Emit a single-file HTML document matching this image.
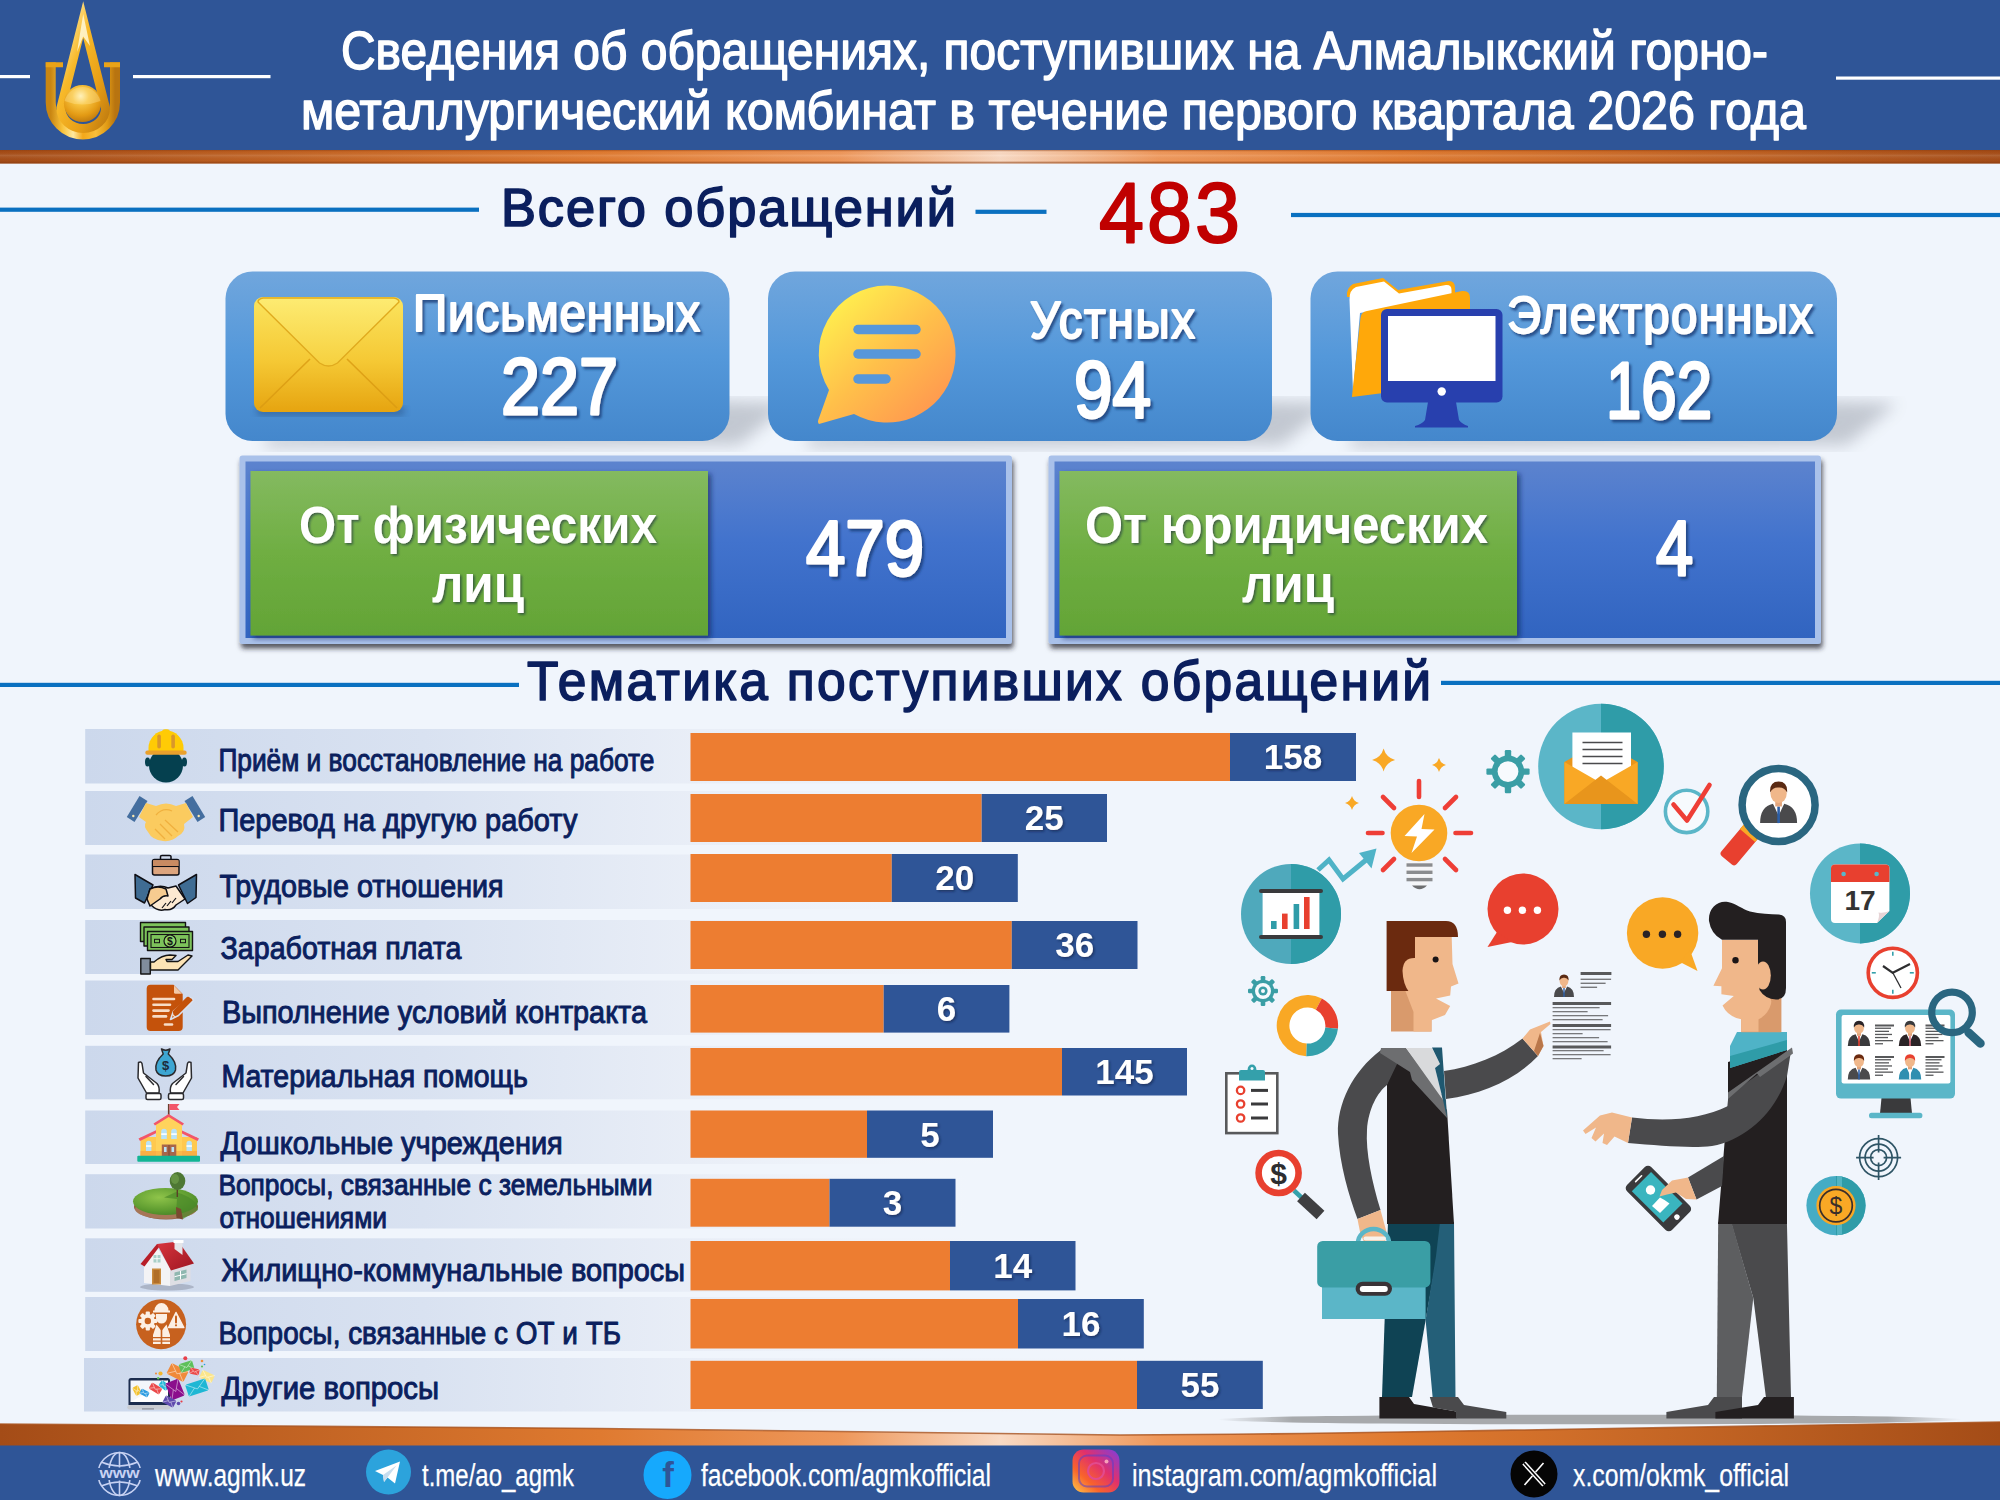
<!DOCTYPE html>
<html lang="ru"><head><meta charset="utf-8"><title>Сведения об обращениях — АГМК</title>
<style>
html,body{margin:0;padding:0;background:#F0F5FC;}
body{width:2000px;height:1500px;overflow:hidden;font-family:"Liberation Sans",sans-serif;}
svg{display:block;}
text{font-family:"Liberation Sans",sans-serif;white-space:pre;}
</style></head><body>
<svg width="2000" height="1500" viewBox="0 0 2000 1500">
<defs>
<linearGradient id="gBand" x1="0" x2="1" y1="0" y2="0">
 <stop offset="0" stop-color="#A44C17"/><stop offset="0.12" stop-color="#BC5F21"/><stop offset="0.3" stop-color="#DF7A30"/><stop offset="0.42" stop-color="#EE975A"/><stop offset="0.5" stop-color="#F9DAC4"/><stop offset="0.58" stop-color="#EE975A"/><stop offset="0.7" stop-color="#DF7A30"/><stop offset="0.88" stop-color="#BC5F21"/><stop offset="1" stop-color="#A44C17"/>
</linearGradient>
<linearGradient id="gBandV" x1="0" x2="0" y1="0" y2="1">
 <stop offset="0" stop-color="#8A3C10" stop-opacity="0.55"/><stop offset="0.14" stop-color="#8A3C10" stop-opacity="0.0"/><stop offset="0.4" stop-color="#fff" stop-opacity="0.12"/><stop offset="0.82" stop-color="#8A3C10" stop-opacity="0.0"/><stop offset="0.9" stop-color="#8A3C10" stop-opacity="0.5"/><stop offset="1" stop-color="#8A3C10" stop-opacity="0.6"/>
</linearGradient>
<linearGradient id="gCard" x1="0" x2="0" y1="0" y2="1">
 <stop offset="0" stop-color="#70A6DD"/><stop offset="0.5" stop-color="#5498DA"/><stop offset="1" stop-color="#4487CC"/>
</linearGradient>
<linearGradient id="gBox" x1="0" x2="0" y1="0" y2="1">
 <stop offset="0" stop-color="#5C83CE"/><stop offset="0.45" stop-color="#4273CD"/><stop offset="1" stop-color="#3164C0"/>
</linearGradient>
<linearGradient id="gGreen" x1="0" x2="0" y1="0" y2="1">
 <stop offset="0" stop-color="#84BA60"/><stop offset="0.5" stop-color="#6FAE42"/><stop offset="1" stop-color="#63A436"/>
</linearGradient>
<linearGradient id="gRow" x1="0" x2="1" y1="0" y2="0">
 <stop offset="0" stop-color="#CCD8EC"/><stop offset="0.55" stop-color="#D9E2F1"/><stop offset="1" stop-color="#E9EEF7"/>
</linearGradient>
<linearGradient id="gRowFade" x1="0" x2="1" y1="0" y2="0">
 <stop offset="0" stop-color="#E9EEF7"/><stop offset="1" stop-color="#F4F7FC" stop-opacity="0"/>
</linearGradient>
<filter id="fTxt" x="-10%" y="-20%" width="130%" height="150%"><feDropShadow dx="2.3" dy="2.8" stdDeviation="0.9" flood-color="#123A76" flood-opacity="0.78"/></filter>
<filter id="fTxtS" x="-10%" y="-20%" width="130%" height="150%"><feDropShadow dx="1.5" dy="1.5" stdDeviation="1" flood-color="#0A1A40" flood-opacity="0.6"/></filter>
<filter id="fBox" x="-5%" y="-10%" width="112%" height="125%"><feDropShadow dx="1.5" dy="4.5" stdDeviation="2.6" flood-color="#20242E" flood-opacity="0.75"/></filter>
<filter id="fGreen" x="-5%" y="-10%" width="112%" height="125%"><feDropShadow dx="3" dy="3" stdDeviation="2.5" flood-color="#0A1A50" flood-opacity="0.6"/></filter>
<filter id="fBlur8"><feGaussianBlur stdDeviation="8"/></filter>
<filter id="fBlur3"><feGaussianBlur stdDeviation="3"/></filter>
</defs>
<rect x="0.0" y="0.0" width="2000.0" height="1500.0" fill="#F0F5FC" />
<rect x="0.0" y="0.0" width="2000.0" height="150.5" fill="#2F5597" />
<rect x="0.0" y="150.0" width="2000.0" height="13.5" fill="url(#gBand)" />
<rect x="0.0" y="150.0" width="2000.0" height="13.5" fill="url(#gBandV)" />
<rect x="0.0" y="75.0" width="30.0" height="3.2" fill="#fff" />
<rect x="133.0" y="75.0" width="137.5" height="3.2" fill="#fff" />
<rect x="1836.0" y="76.5" width="164.0" height="3.2" fill="#fff" />
<text x="341.0" y="69.0" font-size="54" fill="#fff" textLength="1427.0" lengthAdjust="spacingAndGlyphs" stroke="#fff" stroke-width="1.5" stroke-linejoin="round">Сведения об обращениях, поступивших на Алмалыкский горно-</text>
<text x="301.0" y="129.0" font-size="54" fill="#fff" textLength="1505.0" lengthAdjust="spacingAndGlyphs" stroke="#fff" stroke-width="1.5" stroke-linejoin="round">металлургический комбинат в течение первого квартала 2026 года</text>
<rect x="0.0" y="207.6" width="479.0" height="4.2" fill="#0A70C0" />
<rect x="975.5" y="209.7" width="71.0" height="4.2" fill="#0A70C0" />
<rect x="1291.0" y="212.9" width="709.0" height="4.2" fill="#0A70C0" />
<text transform="translate(501.0,225.5) scale(0.97,1)" font-size="54" fill="#0B1F5E" textLength="469.1" lengthAdjust="spacing" stroke="#0B1F5E" stroke-width="1.7" stroke-linejoin="round">Всего обращений</text>
<text transform="translate(1099.0,241.5) scale(0.94,1)" font-size="86" fill="#C00000" textLength="150.0" lengthAdjust="spacing" stroke="#C00000" stroke-width="2.0" stroke-linejoin="round">483</text>
<rect x="0.0" y="682.8" width="519.0" height="4.2" fill="#0A70C0" />
<rect x="1441.0" y="680.8" width="559.0" height="4.2" fill="#0A70C0" />
<text transform="translate(527.0,700.3) scale(0.92,1)" font-size="56" fill="#0B1F5E" textLength="982.6" lengthAdjust="spacing" stroke="#0B1F5E" stroke-width="1.7" stroke-linejoin="round">Тематика поступивших обращений</text>
<path d="M0,1424 L600,1428.5 Q1000,1434.5 1120,1435 Q1250,1434.5 1400,1432 L2000,1422 V1446 H0 Z" fill="url(#gBand)"/>
<path d="M0,1424 L600,1428.5 Q1000,1434.5 1120,1435 Q1250,1434.5 1400,1432 L2000,1422" fill="none" stroke="#A8501A" stroke-width="1.6" opacity="0.8"/>
<rect x="0.0" y="1445.5" width="2000.0" height="54.5" fill="#2F5597" />
<path d="M265.5,435 L719.5,401 L789.5,403 L739.5,445 L265.5,447 Z" fill="#5B6270" opacity="0.30" filter="url(#fBlur8)"/>
<rect x="225.5" y="271.5" width="504.0" height="169.5" fill="url(#gCard)" rx="27" ry="27"/>
<path d="M808,435 L1262,401 L1332,403 L1282,445 L808,447 Z" fill="#5B6270" opacity="0.30" filter="url(#fBlur8)"/>
<rect x="768.0" y="271.5" width="504.0" height="169.5" fill="url(#gCard)" rx="27" ry="27"/>
<path d="M1350.5,435 L1827,401 L1897,403 L1847,445 L1350.5,447 Z" fill="#5B6270" opacity="0.30" filter="url(#fBlur8)"/>
<rect x="1310.5" y="271.5" width="526.5" height="169.5" fill="url(#gCard)" rx="27" ry="27"/>
<text transform="translate(413.0,330.5) scale(0.93,1)" font-size="51" fill="#fff" textLength="308.6" lengthAdjust="spacing" stroke="#fff" stroke-width="2.0" stroke-linejoin="round" filter="url(#fTxt)">Письменных</text>
<text x="501.0" y="414.0" font-size="80" fill="#fff" textLength="117.0" lengthAdjust="spacingAndGlyphs" stroke="#fff" stroke-width="3.0" stroke-linejoin="round" filter="url(#fTxt)">227</text>
<text transform="translate(1030.0,337.5) scale(0.93,1)" font-size="51" fill="#fff" textLength="177.4" lengthAdjust="spacing" stroke="#fff" stroke-width="2.0" stroke-linejoin="round" filter="url(#fTxt)">Устных</text>
<text x="1074.0" y="416.5" font-size="80" fill="#fff" textLength="77.0" lengthAdjust="spacingAndGlyphs" stroke="#fff" stroke-width="3.0" stroke-linejoin="round" filter="url(#fTxt)">94</text>
<text transform="translate(1507.0,332.5) scale(0.93,1)" font-size="51" fill="#fff" textLength="329.0" lengthAdjust="spacing" stroke="#fff" stroke-width="2.0" stroke-linejoin="round" filter="url(#fTxt)">Электронных</text>
<text x="1606.0" y="418.0" font-size="80" fill="#fff" textLength="106.0" lengthAdjust="spacingAndGlyphs" stroke="#fff" stroke-width="3.0" stroke-linejoin="round" filter="url(#fTxt)">162</text>
<g filter="url(#fBox)"><rect x="239.5" y="455.5" width="772.5" height="188.5" fill="#A9C1EA" rx="3"/></g>
<rect x="245.5" y="461.5" width="760.5" height="176.5" fill="url(#gBox)" />
<g filter="url(#fGreen)"><rect x="250.5" y="471.0" width="457.5" height="164.5" fill="url(#gGreen)" /></g>
<g filter="url(#fBox)"><rect x="1048.5" y="455.5" width="772.5" height="188.5" fill="#A9C1EA" rx="3"/></g>
<rect x="1054.5" y="461.5" width="760.5" height="176.5" fill="url(#gBox)" />
<g filter="url(#fGreen)"><rect x="1059.5" y="471.0" width="457.5" height="164.5" fill="url(#gGreen)" /></g>
<text x="299.0" y="542.5" font-size="51" fill="#fff" textLength="358.0" lengthAdjust="spacingAndGlyphs" font-weight="bold" filter="url(#fTxtS)">От физических</text>
<text x="432.0" y="602.0" font-size="51" fill="#fff" textLength="92.0" lengthAdjust="spacingAndGlyphs" font-weight="bold" filter="url(#fTxtS)">лиц</text>
<text x="1085.0" y="542.5" font-size="51" fill="#fff" textLength="403.0" lengthAdjust="spacingAndGlyphs" font-weight="bold" filter="url(#fTxtS)">От юридических</text>
<text x="1242.0" y="602.0" font-size="51" fill="#fff" textLength="92.0" lengthAdjust="spacingAndGlyphs" font-weight="bold" filter="url(#fTxtS)">лиц</text>
<text x="806.0" y="575.0" font-size="77" fill="#fff" textLength="118.0" lengthAdjust="spacingAndGlyphs" stroke="#fff" stroke-width="3.0" stroke-linejoin="round" filter="url(#fTxt)">479</text>
<text x="1656.0" y="575.0" font-size="77" fill="#fff" textLength="37.0" lengthAdjust="spacingAndGlyphs" stroke="#fff" stroke-width="3.0" stroke-linejoin="round" filter="url(#fTxt)">4</text>
<rect x="85.2" y="729.0" width="614.8" height="54.5" fill="url(#gRow)" />
<rect x="700.0" y="729.0" width="676.0" height="54.5" fill="url(#gRowFade)" />
<rect x="690.5" y="733.0" width="539.5" height="48.0" fill="#ED7D31" />
<rect x="1230.0" y="733.0" width="126.0" height="48.0" fill="#2F5597" />
<text x="1293.0" y="769.3" font-size="35" fill="#fff" font-weight="bold" text-anchor="middle" filter="url(#fTxtS)">158</text>
<text x="218.4" y="771.3" font-size="31" fill="#0B1F5E" textLength="436.0" lengthAdjust="spacingAndGlyphs" stroke="#0B1F5E" stroke-width="1.0" stroke-linejoin="round">Приём и восстановление на работе</text>
<rect x="85.2" y="791.0" width="614.8" height="54.0" fill="url(#gRow)" />
<rect x="700.0" y="791.0" width="427.0" height="54.0" fill="url(#gRowFade)" />
<rect x="690.5" y="794.0" width="291.2" height="48.0" fill="#ED7D31" />
<rect x="981.7" y="794.0" width="125.3" height="48.0" fill="#2F5597" />
<text x="1044.3" y="830.3" font-size="35" fill="#fff" font-weight="bold" text-anchor="middle" filter="url(#fTxtS)">25</text>
<text x="218.4" y="830.8" font-size="31" fill="#0B1F5E" textLength="359.0" lengthAdjust="spacingAndGlyphs" stroke="#0B1F5E" stroke-width="1.0" stroke-linejoin="round">Перевод на другую работу</text>
<rect x="85.2" y="854.5" width="614.8" height="54.5" fill="url(#gRow)" />
<rect x="700.0" y="854.5" width="337.8" height="54.5" fill="url(#gRowFade)" />
<rect x="690.5" y="854.0" width="201.3" height="48.0" fill="#ED7D31" />
<rect x="891.8" y="854.0" width="126.0" height="48.0" fill="#2F5597" />
<text x="954.8" y="890.3" font-size="35" fill="#fff" font-weight="bold" text-anchor="middle" filter="url(#fTxtS)">20</text>
<text x="219.4" y="897.3" font-size="31" fill="#0B1F5E" textLength="284.2" lengthAdjust="spacingAndGlyphs" stroke="#0B1F5E" stroke-width="1.0" stroke-linejoin="round">Трудовые отношения</text>
<rect x="85.2" y="920.0" width="614.8" height="54.0" fill="url(#gRow)" />
<rect x="700.0" y="920.0" width="457.5" height="54.0" fill="url(#gRowFade)" />
<rect x="690.5" y="921.0" width="321.3" height="48.0" fill="#ED7D31" />
<rect x="1011.8" y="921.0" width="125.7" height="48.0" fill="#2F5597" />
<text x="1074.7" y="957.3" font-size="35" fill="#fff" font-weight="bold" text-anchor="middle" filter="url(#fTxtS)">36</text>
<text x="220.6" y="959.2" font-size="31" fill="#0B1F5E" textLength="240.8" lengthAdjust="spacingAndGlyphs" stroke="#0B1F5E" stroke-width="1.0" stroke-linejoin="round">Заработная плата</text>
<rect x="85.2" y="980.5" width="614.8" height="54.5" fill="url(#gRow)" />
<rect x="700.0" y="980.5" width="329.4" height="54.5" fill="url(#gRowFade)" />
<rect x="690.5" y="985.0" width="193.2" height="47.6" fill="#ED7D31" />
<rect x="883.7" y="985.0" width="125.7" height="47.6" fill="#2F5597" />
<text x="946.5" y="1021.1" font-size="35" fill="#fff" font-weight="bold" text-anchor="middle" filter="url(#fTxtS)">6</text>
<text x="222.0" y="1023.3" font-size="31" fill="#0B1F5E" textLength="425.0" lengthAdjust="spacingAndGlyphs" stroke="#0B1F5E" stroke-width="1.0" stroke-linejoin="round">Выполнение условий контракта</text>
<rect x="85.2" y="1045.8" width="614.8" height="53.5" fill="url(#gRow)" />
<rect x="700.0" y="1045.8" width="507.0" height="53.5" fill="url(#gRowFade)" />
<rect x="690.5" y="1048.0" width="371.5" height="47.5" fill="#ED7D31" />
<rect x="1062.0" y="1048.0" width="125.0" height="47.5" fill="#2F5597" />
<text x="1124.5" y="1084.0" font-size="35" fill="#fff" font-weight="bold" text-anchor="middle" filter="url(#fTxtS)">145</text>
<text x="221.4" y="1086.7" font-size="31" fill="#0B1F5E" textLength="306.4" lengthAdjust="spacingAndGlyphs" stroke="#0B1F5E" stroke-width="1.0" stroke-linejoin="round">Материальная помощь</text>
<rect x="85.2" y="1110.5" width="614.8" height="53.5" fill="url(#gRow)" />
<rect x="700.0" y="1110.5" width="313.0" height="53.5" fill="url(#gRowFade)" />
<rect x="690.5" y="1110.5" width="176.5" height="47.3" fill="#ED7D31" />
<rect x="867.0" y="1110.5" width="126.0" height="47.3" fill="#2F5597" />
<text x="930.0" y="1146.5" font-size="35" fill="#fff" font-weight="bold" text-anchor="middle" filter="url(#fTxtS)">5</text>
<text x="220.4" y="1154.3" font-size="31" fill="#0B1F5E" textLength="342.4" lengthAdjust="spacingAndGlyphs" stroke="#0B1F5E" stroke-width="1.0" stroke-linejoin="round">Дошкольные учреждения</text>
<rect x="85.2" y="1174.2" width="614.8" height="54.3" fill="url(#gRow)" />
<rect x="700.0" y="1174.2" width="275.5" height="54.3" fill="url(#gRowFade)" />
<rect x="690.5" y="1178.8" width="139.0" height="47.9" fill="#ED7D31" />
<rect x="829.5" y="1178.8" width="126.0" height="47.9" fill="#2F5597" />
<text x="892.5" y="1215.0" font-size="35" fill="#fff" font-weight="bold" text-anchor="middle" filter="url(#fTxtS)">3</text>
<text x="218.4" y="1194.5" font-size="29.5" fill="#0B1F5E" textLength="434.0" lengthAdjust="spacingAndGlyphs" stroke="#0B1F5E" stroke-width="1.0" stroke-linejoin="round">Вопросы, связанные с земельными</text>
<text x="219.4" y="1227.8" font-size="29.5" fill="#0B1F5E" textLength="167.6" lengthAdjust="spacingAndGlyphs" stroke="#0B1F5E" stroke-width="1.0" stroke-linejoin="round">отношениями</text>
<rect x="85.2" y="1238.3" width="614.8" height="53.5" fill="url(#gRow)" />
<rect x="700.0" y="1238.3" width="395.5" height="53.5" fill="url(#gRowFade)" />
<rect x="690.5" y="1241.0" width="259.5" height="49.4" fill="#ED7D31" />
<rect x="950.0" y="1241.0" width="125.5" height="49.4" fill="#2F5597" />
<text x="1012.8" y="1278.0" font-size="35" fill="#fff" font-weight="bold" text-anchor="middle" filter="url(#fTxtS)">14</text>
<text x="221.6" y="1281.3" font-size="31" fill="#0B1F5E" textLength="463.4" lengthAdjust="spacingAndGlyphs" stroke="#0B1F5E" stroke-width="1.0" stroke-linejoin="round">Жилищно-коммунальные вопросы</text>
<rect x="85.2" y="1297.0" width="614.8" height="54.0" fill="url(#gRow)" />
<rect x="700.0" y="1297.0" width="463.8" height="54.0" fill="url(#gRowFade)" />
<rect x="690.5" y="1299.0" width="327.5" height="49.5" fill="#ED7D31" />
<rect x="1018.0" y="1299.0" width="125.8" height="49.5" fill="#2F5597" />
<text x="1080.9" y="1336.0" font-size="35" fill="#fff" font-weight="bold" text-anchor="middle" filter="url(#fTxtS)">16</text>
<text x="218.4" y="1344.3" font-size="31" fill="#0B1F5E" textLength="402.6" lengthAdjust="spacingAndGlyphs" stroke="#0B1F5E" stroke-width="1.0" stroke-linejoin="round">Вопросы, связанные с ОТ и ТБ</text>
<rect x="84.0" y="1358.0" width="616.0" height="53.5" fill="url(#gRow)" />
<rect x="700.0" y="1358.0" width="582.8" height="53.5" fill="url(#gRowFade)" />
<rect x="690.5" y="1360.8" width="446.5" height="48.2" fill="#ED7D31" />
<rect x="1137.0" y="1360.8" width="125.8" height="48.2" fill="#2F5597" />
<text x="1199.9" y="1397.2" font-size="35" fill="#fff" font-weight="bold" text-anchor="middle" filter="url(#fTxtS)">55</text>
<text x="221.6" y="1399.3" font-size="31" fill="#0B1F5E" textLength="217.4" lengthAdjust="spacingAndGlyphs" stroke="#0B1F5E" stroke-width="1.0" stroke-linejoin="round">Другие вопросы</text>
<defs>
<linearGradient id="gGold" x1="0" x2="1" y1="0" y2="0"><stop offset="0" stop-color="#C98612"/><stop offset="0.18" stop-color="#F9C238"/><stop offset="0.35" stop-color="#FFE9A0"/><stop offset="0.5" stop-color="#F3A81A"/><stop offset="0.7" stop-color="#F8BE3A"/><stop offset="0.88" stop-color="#E09A14"/><stop offset="1" stop-color="#B87410"/></linearGradient>
<linearGradient id="gGoldA" x1="0" x2="1" y1="0" y2="1"><stop offset="0" stop-color="#FFF1B8"/><stop offset="0.35" stop-color="#F7B92A"/><stop offset="0.7" stop-color="#E9A016"/><stop offset="1" stop-color="#C07C10"/></linearGradient>
<radialGradient id="gBall" cx="0.45" cy="0.3" r="0.75"><stop offset="0" stop-color="#FFF6C8"/><stop offset="0.3" stop-color="#F8C440"/><stop offset="0.7" stop-color="#E39A14"/><stop offset="1" stop-color="#B8740E"/></radialGradient>
</defs>
<path d="M50.7,62.3 V102.3 A32.15,32.15 0 0 0 115,102.3 V62.3" fill="none" stroke="url(#gGold)" stroke-width="10"/>
<path d="M45.7,62.3 H63 V67.3 H45.7 Z M104,62.3 H120 V67.3 H104 Z" fill="#E9A318"/>
<path d="M83.2,19.7 L60.9,108 A22.3,20.5 0 0 0 105.5,108 Z" fill="none" stroke="url(#gGoldA)" stroke-width="9" stroke-linejoin="miter" stroke-miterlimit="12"/>
<path d="M83.2,14 L90,46 L83.2,36.5 L77,52 Z" fill="#FFF8D8" opacity="0.85"/>
<circle cx="82.5" cy="103.5" r="18.6" fill="url(#gBall)"/>
<path d="M64.5,101 A18.6,18.6 0 0 1 100.5,101 Q82,108 64.5,101 Z" fill="#FFE9A0" opacity="0.35"/>
<defs>
<linearGradient id="gEnv" x1="0" x2="0" y1="0" y2="1"><stop offset="0" stop-color="#FBE45E"/><stop offset="0.55" stop-color="#F5C935"/><stop offset="1" stop-color="#E6A410"/></linearGradient>
<linearGradient id="gEnvF" x1="0" x2="0" y1="0" y2="1"><stop offset="0" stop-color="#FDEB72"/><stop offset="1" stop-color="#F6D03E"/></linearGradient>
</defs>
<rect x="256" y="406" width="149" height="10" rx="5" fill="#1B3A66" opacity="0.35" filter="url(#fBlur3)"/>
<rect x="254.0" y="297.0" width="149.0" height="115.0" fill="url(#gEnv)" rx="9"/>
<path d="M260,408 L310,359 M397,408 L347,359" stroke="#D99A12" stroke-width="1.6" fill="none" opacity="0.8"/>
<path d="M258,302 Q258,299 263,298 L394,298 Q399,299 399,302 L337.5,363 Q328.5,369 319.5,363 Z" fill="url(#gEnvF)" stroke="#E0AA1E" stroke-width="1.4"/>
<defs><linearGradient id="gChat" x1="0.1" y1="0.05" x2="0.9" y2="0.95"><stop offset="0" stop-color="#FFF44F"/><stop offset="0.5" stop-color="#FFC04A"/><stop offset="1" stop-color="#FF9350"/></linearGradient></defs>
<path d="M887,285.5 A68.5,68.5 0 1 1 854,414 L819,424 Q817,422 819,418 L829,390 A68.5,68.5 0 0 1 887,285.5 Z" fill="url(#gChat)"/>
<path d="M858,329.5 H916" stroke="#5797DA" stroke-width="9.5" stroke-linecap="round"/>
<path d="M858,354 H916" stroke="#5797DA" stroke-width="9.5" stroke-linecap="round"/>
<path d="M858,379 H886" stroke="#5797DA" stroke-width="9.5" stroke-linecap="round"/>
<path d="M1347,297 Q1346,288 1353,284 L1383,278 L1398,290 L1449,281 Q1455,281 1455,288 L1455,300 Z" fill="#FFA80A"/>
<path d="M1349.5,300 Q1349,290 1356,287 L1384,281.5 L1399,293.5 L1446,285 Q1451.5,284.5 1451.5,290 L1451.5,296 L1360,313 L1353,392 Z" fill="#fff"/>
<path d="M1352,396 L1360.5,318 Q1361,312 1367,311 L1462,291 Q1470,290 1470,298 L1470,382 L1352,397 Z" fill="#FFA80A"/>
<rect x="1381.0" y="309.0" width="121.5" height="93.5" fill="#2840AE" rx="6"/>
<rect x="1388.0" y="316.0" width="107.5" height="65.0" fill="#fff" />
<circle cx="1441.7" cy="391.5" r="4.2" fill="#fff"/>
<path d="M1428,402 H1456 L1459,420 Q1462,424 1468,426 V427.5 H1415 V426 Q1422,424 1425,420 Z" fill="#2840AE"/>
<circle cx="166" cy="765.5" r="17" fill="#05404F"/>
<ellipse cx="147.6" cy="762" rx="2.6" ry="4.5" fill="#05404F"/><ellipse cx="184.4" cy="762" rx="2.6" ry="4.5" fill="#05404F"/>
<path d="M148.5,752 V748 A17.5,17.5 0 0 1 183.5,748 V752 Z" fill="#FFCB05"/>
<rect x="162.0" y="729.3" width="8.0" height="10.0" fill="#FFCB05" rx="3"/>
<rect x="157.3" y="734.5" width="3.6" height="14.0" fill="#D9972B" rx="1.8"/>
<rect x="171.3" y="734.5" width="3.6" height="14.0" fill="#D9972B" rx="1.8"/>
<rect x="145.3" y="750.6" width="41.4" height="4.2" fill="#E9A02C" rx="2.1"/>
<path d="M139.5,796 L147.5,801 L134.5,822 L126.8,817 Z" fill="#446E9F"/><path d="M192.5,796 L184.5,801 L197.5,822 L205.2,817 Z" fill="#446E9F"/>
<circle cx="133.3" cy="816" r="1.2" fill="#FDE9B0"/><circle cx="198.7" cy="816" r="1.2" fill="#FDE9B0"/>
<path d="M146,803 L156,806 Q166,801 176,806 L186,803 L193,817 L184,824 Q186,832 178,836 Q172,842 163,841 Q152,840 148,832 Q143,826 146,822 L139,817 Z" fill="#FBCB5F"/>
<path d="M156,815 Q163,807 172,811 M165,820 L178,832 M160,824 L172,836 M155,829 L165,839" stroke="#F0B03E" stroke-width="1.3" fill="none"/>
<rect x="152.5" y="859.5" width="26.5" height="15.5" rx="2" fill="#DDA57E" stroke="#0E0E14" stroke-width="1.5" stroke-linejoin="round"/>
<path d="M160.5,859 V856.5 Q160.5,855.5 162,855.5 H169.5 Q171,855.5 171,856.5 V859" fill="none" stroke="#0E0E14" stroke-width="1.5" stroke-linejoin="round"/>
<path d="M153,866.5 H179" stroke="#0E0E14" stroke-width="1.1"/><path d="M153,860.2 H178.6 V866 H153 Z" fill="#C98B62"/>
<path d="M135,874.5 L153,885 L144.5,903 L135.5,898 Z" fill="#3F6C93" stroke="#0E0E14" stroke-width="1.5" stroke-linejoin="round"/><path d="M196.5,874.5 L178.5,885 L187.5,903.5 L196,897.5 Z" fill="#3F6C93" stroke="#0E0E14" stroke-width="1.5" stroke-linejoin="round"/>
<path d="M150,889 Q160,884 168,888 L176,886 L185,899 L176,905 Q172,911 165,909.5 Q158,912 151,905 L147,899 Z" fill="#FCE9D2" stroke="#0E0E14" stroke-width="1.5" stroke-linejoin="round"/>
<path d="M150,889 Q158,885 166,889 L168,896 Q163,895 160,899 L150,906 L147,899 Z" fill="#F6CB90" stroke="#0E0E14" stroke-width="1.5" stroke-linejoin="round"/>
<path d="M172,903 L176,898 M167,906 L171,901 M162,908 L166,903" stroke="#0E0E14" stroke-width="1.2"/>
<rect x="140.5" y="922.5" width="45" height="19" fill="#7DC35B" stroke="#141414" stroke-width="1.4" stroke-linejoin="round"/>
<rect x="144" y="927" width="45" height="19" fill="#7DC35B" stroke="#141414" stroke-width="1.4" stroke-linejoin="round"/>
<rect x="147.5" y="931.5" width="45" height="19" fill="#7DC35B" stroke="#141414" stroke-width="1.4" stroke-linejoin="round"/>
<rect x="151" y="934.5" width="38" height="13" fill="none" stroke="#141414" stroke-width="1.1"/>
<circle cx="170" cy="941" r="6" fill="#8FD46A" stroke="#141414" stroke-width="1.2"/>
<text x="170.0" y="944.8" font-size="10.5" fill="#141414" font-weight="bold" text-anchor="middle">$</text>
<rect x="154.5" y="939.3" width="5" height="3.4" fill="none" stroke="#141414" stroke-width="1"/><rect x="180.5" y="939.3" width="5" height="3.4" fill="none" stroke="#141414" stroke-width="1"/>
<rect x="140.8" y="958.5" width="9.5" height="15.5" fill="#808C9C" stroke="#141414" stroke-width="1.4" stroke-linejoin="round"/>
<path d="M150.5,962 H154 Q162,955 170,955 L176,955.5 L172,959.5 H166 L167,961.5 H178 L188,955 L192,956 L178,970 H150.5 Z" fill="#FCE3B5" stroke="#141414" stroke-width="1.4" stroke-linejoin="round"/>
<path d="M150.5,984.7 H173.5 L182.7,994 V1027 Q182.7,1031 178.7,1031 H150.5 Q146.7,1031 146.7,1027 V988.7 Q146.7,984.7 150.5,984.7 Z" fill="#C4520B"/>
<path d="M174,985.5 L182,993.7 H175.5 Q174,993.7 174,992.2 Z" fill="#F2C9A8"/>
<path d="M153.5,999 H174" stroke="#F7DCC6" stroke-width="2.6" stroke-linecap="round"/>
<path d="M153.5,1004.8 H170" stroke="#F7DCC6" stroke-width="2.6" stroke-linecap="round"/>
<path d="M153.5,1010.6 H168.5" stroke="#F7DCC6" stroke-width="2.6" stroke-linecap="round"/>
<path d="M153.5,1016.4 H166" stroke="#F7DCC6" stroke-width="2.6" stroke-linecap="round"/>
<path d="M165,1024.5 H172" stroke="#F7DCC6" stroke-width="2.6" stroke-linecap="round"/>
<path d="M189.5,997.5 Q192.5,997 193.5,1000.5 L178.5,1015.5 L170.5,1019.5 L173.5,1011 Z" fill="#C4520B" stroke="#D9E1F0" stroke-width="1.6" stroke-linejoin="round"/><path d="M188,1000 L176,1012" stroke="#C4520B" stroke-width="6" stroke-linecap="round"/>
<path d="M172.5,1014.5 L175.5,1017.5" stroke="#F7DCC6" stroke-width="1.2"/>
<path d="M161.5,1049 Q165.7,1051.5 170,1049 L168.3,1054 Q177,1062 175.5,1070 Q174,1076 165.7,1076 Q157.5,1076 156,1070 Q154.5,1062 163.2,1054 Z" fill="#3DA6D2" stroke="#2A2A2E" stroke-width="1.5" stroke-linejoin="round" stroke-linecap="round"/>
<text x="165.7" y="1070.0" font-size="13" fill="#1E2A3A" font-weight="bold" text-anchor="middle">$</text>
<path d="M138.5,1062.5 Q141,1061 142,1063.5 L143.5,1073 L157,1083.5 Q160,1087 159,1093 H146.5 L138,1078 Z" fill="#fff" stroke="#2A2A2E" stroke-width="1.5" stroke-linejoin="round" stroke-linecap="round"/><path d="M146,1076.5 L153.5,1084.5" fill="none" stroke="#2A2A2E" stroke-width="1.5" stroke-linejoin="round" stroke-linecap="round"/>
<path d="M191,1062.5 Q188.5,1061 187.500,1063.5 L186,1073 L172.500,1083.5 Q169.500,1087 170.500,1093 H183 L191.500,1078 Z" fill="#fff" stroke="#2A2A2E" stroke-width="1.5" stroke-linejoin="round" stroke-linecap="round"/><path d="M183.500,1076.5 L176,1084.5" fill="none" stroke="#2A2A2E" stroke-width="1.5" stroke-linejoin="round" stroke-linecap="round"/>
<rect x="146" y="1093.5" width="15" height="6" rx="1.5" fill="#fff" stroke="#2A2A2E" stroke-width="1.5" stroke-linejoin="round" stroke-linecap="round"/><rect x="168.5" y="1093.5" width="15" height="6" rx="1.5" fill="#fff" stroke="#2A2A2E" stroke-width="1.5" stroke-linejoin="round" stroke-linecap="round"/>
<path d="M168.7,1104 V1115" stroke="#6B3E2E" stroke-width="1.6"/><path d="M169.5,1104 H179.5 L177,1107 L179.5,1110 H169.5 Z" fill="#F2566A"/>
<rect x="140.5" y="1137.0" width="56.5" height="19.0" fill="#FFC94F" />
<rect x="140.5" y="1151.0" width="56.5" height="5.0" fill="#FBAF45" />
<path d="M138.5,1138.5 L156.5,1130 L156.5,1133 L140,1141 Z" fill="#F2566A"/><path d="M199,1138.500 L181,1130 L181,1133 L197.500,1141 Z" fill="#F2566A"/>
<path d="M156,1123 L168.7,1115.5 L182,1123 V1156 H156 Z" fill="#FFD35C"/>
<rect x="156.0" y="1151.0" width="26.0" height="5.0" fill="#FCB84A" />
<path d="M153.5,1123.5 L168.7,1114 L184,1123.5 L182.500,1125.500 L168.7,1117 L155,1125.500 Z" fill="#F2566A"/>
<path d="M161.2,1139 V1131.5 A2.8,2.8 0 0 1 166.79999999999998,1131.5 V1139 Z" fill="#B9E3F8"/><rect x="161.2" y="1133.3" width="5.6" height="1.6" fill="#fff"/>
<path d="M171.2,1139 V1131.5 A2.8,2.8 0 0 1 176.79999999999998,1131.5 V1139 Z" fill="#B9E3F8"/><rect x="171.2" y="1133.3" width="5.6" height="1.6" fill="#fff"/>
<path d="M146,1151 V1143.500 A2.7,2.7 0 0 1 151.4,1143.500 V1151 Z" fill="#B9E3F8"/><rect x="146" y="1145.300" width="5.400" height="1.500" fill="#fff"/>
<path d="M186.5,1151 V1143.500 A2.7,2.7 0 0 1 191.9,1143.500 V1151 Z" fill="#B9E3F8"/><rect x="186.5" y="1145.300" width="5.400" height="1.500" fill="#fff"/>
<rect x="161.8" y="1144.5" width="14.5" height="11.5" fill="#A8664A" />
<path d="M169,1145 V1156" stroke="#7C4632" stroke-width="1"/>
<rect x="164.0" y="1147.0" width="2.6" height="5.0" fill="#B9E3F8" />
<rect x="171.5" y="1147.0" width="2.6" height="5.0" fill="#B9E3F8" />
<rect x="137.3" y="1155.7" width="62.7" height="6.0" fill="#12B594" rx="1"/>
<defs><radialGradient id="gGrass" cx="0.4" cy="0.35" r="0.8"><stop offset="0" stop-color="#8FC44A"/><stop offset="0.6" stop-color="#5E9C30"/><stop offset="1" stop-color="#3F7A24"/></radialGradient></defs>
<ellipse cx="166" cy="1207" rx="32" ry="12.5" fill="#8A5A3A"/>
<ellipse cx="166" cy="1209" rx="31" ry="10" fill="#B9896A" opacity="0.6"/>
<ellipse cx="165.5" cy="1201.500" rx="32.500" ry="13.500" fill="url(#gGrass)"/>
<path d="M164,1197.500 L177,1199 L176,1216 L183,1219 L198,1210 L197,1204 Q190,1196 176,1192 Z" fill="#4C8A2A" opacity="0.7"/>
<path d="M176,1207 L176.500,1218 L183,1219.500 L181,1209 Z" fill="#7A4A30"/>
<path d="M177.300,1197 V1187" stroke="#5A4028" stroke-width="1.4"/>
<ellipse cx="177.500" cy="1181" rx="7.800" ry="9" fill="#4E7834"/><ellipse cx="175" cy="1179" rx="4" ry="5" fill="#6B9A48" opacity="0.8"/>
<defs><linearGradient id="gRoof" x1="0" x2="1" y1="0" y2="1"><stop offset="0" stop-color="#D8353E"/><stop offset="1" stop-color="#9E1620"/></linearGradient></defs>
<ellipse cx="167" cy="1287" rx="27" ry="3.500" fill="#6A7080" opacity="0.35"/>
<path d="M144,1264 L157,1247 L170,1268 V1286 L144,1283 Z" fill="#F3F3F5"/>
<path d="M170,1268 L190.500,1262 V1281 L170,1286 Z" fill="#DEDEE4"/>
<path d="M140.500,1264 L157,1244 L161,1244.500 L144.500,1266.500 Z" fill="#B81E28"/>
<path d="M157,1244 L178.500,1241.500 L194,1263.500 L171,1270.500 Z" fill="url(#gRoof)"/>
<path d="M174.500,1242 H182.500 V1255 L174.500,1249 Z" fill="#E4E4E8"/><path d="M173.500,1240 H183.500 V1243 H173.500 Z" fill="#fff"/>
<rect x="152.0" y="1268.5" width="9.0" height="16.0" fill="#C98A3C" />
<rect x="153.5" y="1270.0" width="6.0" height="13.0" fill="#B06E28" />
<path d="M174.500,1272.500 L186.500,1269.500 V1278 L174.500,1281 Z" fill="#8FB8B0"/><path d="M180.500,1271 V1279.500 M174.500,1276.700 L186.500,1273.700" stroke="#fff" stroke-width="1"/>
<rect x="153.5" y="1255.0" width="7.0" height="7.5" fill="#A8CFC8" />
<path d="M157,1255 V1262.500 M153.500,1258.700 H160.500" stroke="#fff" stroke-width="0.9"/>
<circle cx="161.1" cy="1324.2" r="25" fill="#C7611E"/>
<rect x="145.70000000000002" y="1311.6" width="4.200" height="18.800" rx="1" fill="#FCEFE4" transform="rotate(0 147.8 1321)"/><rect x="145.70000000000002" y="1311.6" width="4.200" height="18.800" rx="1" fill="#FCEFE4" transform="rotate(45 147.8 1321)"/><rect x="145.70000000000002" y="1311.6" width="4.200" height="18.800" rx="1" fill="#FCEFE4" transform="rotate(90 147.8 1321)"/><rect x="145.70000000000002" y="1311.6" width="4.200" height="18.800" rx="1" fill="#FCEFE4" transform="rotate(135 147.8 1321)"/><circle cx="147.8" cy="1321" r="7" fill="#FCEFE4"/><circle cx="147.8" cy="1321" r="3.200" fill="#C7611E"/>
<path d="M154.500,1310.500 A7,7.500 0 0 1 168.500,1310.500 H170 V1312.500 H153 V1310.500 Z" fill="#FCEFE4"/>
<path d="M156,1314 H167 V1318 A5.500,5.500 0 0 1 156,1318 Z" fill="#FCEFE4"/>
<path d="M156.500,1324.500 L161.500,1331 L166.500,1324.500 L170,1335 V1344 H153 V1335 Z" fill="#FCEFE4"/>
<path d="M161.500,1329 V1345" stroke="#C7611E" stroke-width="1.600"/><path d="M152,1337.700 H171 M152,1341.200 H171" stroke="#C7611E" stroke-width="1.300"/>
<path d="M176,1312.500 L183.800,1327.500 H168.600 Z" fill="#FCEFE4" stroke="#FCEFE4" stroke-width="1.500" stroke-linejoin="round"/>
<path d="M176,1316.500 V1322.500" stroke="#C7611E" stroke-width="2" stroke-linecap="round"/><circle cx="176" cy="1325.300" r="1.100" fill="#C7611E"/>
<path d="M128.500,1380.500 Q128.500,1378 131,1378 H167.500 Q170,1378 170,1380.500 V1405 H128.500 Z" fill="#1C2D4E"/>
<rect x="130.5" y="1380.5" width="37.5" height="21.5" fill="#F4F6FA" />
<path d="M130.500,1402 L168,1380.500 V1402 Z" fill="#fff"/>
<rect x="127.3" y="1405.0" width="43.0" height="4.5" fill="#C9CCD2" rx="2.2"/>
<rect x="142.0" y="1408.3" width="12.0" height="1.2" fill="#8A8E98" />
<g transform="translate(137 1390.5) rotate(-28)"><rect x="-3.25" y="-4.5" width="6.5" height="9" rx="1.200" fill="#F3C12E"/><path d="M-3.25,-4.5 L0,1.08 L3.25,-4.5 M-3.25,4.5 L-0.78,-0.18 M3.25,4.5 L0.78,-0.18" stroke="#fff" stroke-opacity="0.6" stroke-width="0.700" fill="none"/></g>
<g transform="translate(144.5 1393) rotate(28)"><rect x="-4.5" y="-2.75" width="9" height="5.5" rx="1.200" fill="#2A9BE0"/><path d="M-4.5,-2.75 L0,0.6599999999999999 L4.5,-2.75 M-4.5,2.75 L-1.08,-0.11 M4.5,2.75 L1.08,-0.11" stroke="#fff" stroke-opacity="0.6" stroke-width="0.700" fill="none"/></g>
<g transform="translate(155.5 1388.5) rotate(32)"><rect x="-6.0" y="-3.5" width="12" height="7" rx="1.200" fill="#EB4A4A"/><path d="M-6.0,-3.5 L0,0.84 L6.0,-3.5 M-6.0,3.5 L-1.44,-0.14 M6.0,3.5 L1.44,-0.14" stroke="#fff" stroke-opacity="0.6" stroke-width="0.700" fill="none"/></g>
<g transform="translate(164 1385.5) rotate(38)"><rect x="-4.75" y="-3.25" width="9.5" height="6.5" rx="1.200" fill="#22B8D8"/><path d="M-4.75,-3.25 L0,0.78 L4.75,-3.25 M-4.75,3.25 L-1.14,-0.13 M4.75,3.25 L1.14,-0.13" stroke="#fff" stroke-opacity="0.6" stroke-width="0.700" fill="none"/></g>
<g transform="translate(175 1389.5) rotate(-22)"><rect x="-7.0" y="-9.0" width="14" height="18" rx="1.200" fill="#8B0E8C"/><path d="M-7.0,-9.0 L0,2.16 L7.0,-9.0 M-7.0,9.0 L-1.68,-0.36 M7.0,9.0 L1.68,-0.36" stroke="#fff" stroke-opacity="0.6" stroke-width="0.700" fill="none"/></g>
<g transform="translate(177.5 1372.5) rotate(27)"><rect x="-9.5" y="-6.0" width="19" height="12" rx="1.200" fill="#F08A3A"/><path d="M-9.5,-6.0 L0,1.44 L9.5,-6.0 M-9.5,6.0 L-2.28,-0.24 M9.5,6.0 L2.28,-0.24" stroke="#fff" stroke-opacity="0.6" stroke-width="0.700" fill="none"/></g>
<g transform="translate(186.5 1366.5) rotate(-17)"><rect x="-7.0" y="-4.5" width="14" height="9" rx="1.200" fill="#5DC05A"/><path d="M-7.0,-4.5 L0,1.08 L7.0,-4.5 M-7.0,4.5 L-1.68,-0.18 M7.0,4.5 L1.68,-0.18" stroke="#fff" stroke-opacity="0.6" stroke-width="0.700" fill="none"/></g>
<g transform="translate(194.5 1371.5) rotate(12)"><rect x="-4.75" y="-3.0" width="9.5" height="6" rx="1.200" fill="#EB4A4A"/><path d="M-4.75,-3.0 L0,0.72 L4.75,-3.0 M-4.75,3.0 L-1.14,-0.12 M4.75,3.0 L1.14,-0.12" stroke="#fff" stroke-opacity="0.6" stroke-width="0.700" fill="none"/></g>
<g transform="translate(207 1376.5) rotate(25)"><rect x="-6.75" y="-4.25" width="13.5" height="8.5" rx="1.200" fill="#FBE58A"/><path d="M-6.75,-4.25 L0,1.02 L6.75,-4.25 M-6.75,4.25 L-1.6199999999999999,-0.17 M6.75,4.25 L1.6199999999999999,-0.17" stroke="#fff" stroke-opacity="0.6" stroke-width="0.700" fill="none"/></g>
<g transform="translate(197 1387.5) rotate(-18)"><rect x="-10.5" y="-6.25" width="21" height="12.5" rx="1.200" fill="#1FB7D4"/><path d="M-10.5,-6.25 L0,1.5 L10.5,-6.25 M-10.5,6.25 L-2.52,-0.25 M10.5,6.25 L2.52,-0.25" stroke="#fff" stroke-opacity="0.6" stroke-width="0.700" fill="none"/></g>
<g transform="translate(169.5 1401.5) rotate(28)"><rect x="-6.0" y="-4.0" width="12" height="8" rx="1.200" fill="#5E4BAE"/><path d="M-6.0,-4.0 L0,0.96 L6.0,-4.0 M-6.0,4.0 L-1.44,-0.16 M6.0,4.0 L1.44,-0.16" stroke="#fff" stroke-opacity="0.6" stroke-width="0.700" fill="none"/></g>
<circle cx="185.3" cy="1358.3" r="2" fill="#E8404A"/>
<circle cx="202" cy="1361" r="1.3" fill="#F08A3A"/>
<circle cx="202" cy="1366.5" r="1.1" fill="#5DC05A"/>
<circle cx="160.5" cy="1373.5" r="2.1" fill="#F3B72E"/>
<circle cx="158.2" cy="1378.2" r="1.2" fill="#5DC05A"/>
<circle cx="156" cy="1373.5" r="1" fill="#F08A3A"/>
<circle cx="178.5" cy="1403.5" r="1.8" fill="#5E4BAE"/>
<circle cx="181.5" cy="1401.5" r="1.1" fill="#E8404A"/>
<circle cx="204.5" cy="1364.5" r="0.8" fill="#2A9BE0"/>
<path d="M1383.6,748.5 Q1386.1299999999999,757.47 1395.1,760 Q1386.1299999999999,762.53 1383.6,771.5 Q1381.07,762.53 1372.1,760 Q1381.07,757.47 1383.6,748.5 Z" fill="#F9A825"/>
<path d="M1439,758 Q1440.54,763.46 1446,765 Q1440.54,766.54 1439,772 Q1437.46,766.54 1432,765 Q1437.46,763.46 1439,758 Z" fill="#F9A825"/>
<path d="M1352,796 Q1353.54,801.46 1359,803 Q1353.54,804.54 1352,810 Q1350.46,804.54 1345,803 Q1350.46,801.46 1352,796 Z" fill="#F9A825"/>
<rect x="1504.80" y="750.00" width="6.4" height="43.2" rx="1.2" fill="#3A9EA5" transform="rotate(0.0 1508 771.6)"/><rect x="1504.80" y="750.00" width="6.4" height="43.2" rx="1.2" fill="#3A9EA5" transform="rotate(45.0 1508 771.6)"/><rect x="1504.80" y="750.00" width="6.4" height="43.2" rx="1.2" fill="#3A9EA5" transform="rotate(90.0 1508 771.6)"/><rect x="1504.80" y="750.00" width="6.4" height="43.2" rx="1.2" fill="#3A9EA5" transform="rotate(135.0 1508 771.6)"/><circle cx="1508" cy="771.6" r="16.2" fill="#3A9EA5"/><circle cx="1508" cy="771.6" r="10.4" fill="#F7FAFD"/>
<circle cx="1601" cy="766.5" r="62.8" fill="#5BB6C8"/><path d="M1601,703.7 A62.8,62.8 0 0 1 1601,829.3 Z" fill="#2F9CA8"/><path d="M1564.4,762 L1601,741 L1637.6,762 V804 H1564.4 Z" fill="#E8951C"/><path d="M1572.4,732.4 H1631 V790 H1572.4 Z" fill="#fff"/><path d="M1582.5,742.5 H1622.5" stroke="#4A4A4C" stroke-width="1.7"/><path d="M1582.5,749.5 H1622.5" stroke="#4A4A4C" stroke-width="1.7"/><path d="M1582.5,756.5 H1622.5" stroke="#4A4A4C" stroke-width="1.7"/><path d="M1582.5,763.5 H1622.5" stroke="#4A4A4C" stroke-width="1.7"/><path d="M1564.4,762 L1601,783 L1637.6,762 V804 H1564.4 Z" fill="#F9A825"/><path d="M1564.4,804 L1601,775.500 L1637.6,804 Z" fill="#E8951C"/>
<path d="M1419,781 L1419,797" stroke="#EE3E36" stroke-width="4.6" stroke-linecap="round"/><path d="M1368,833 L1382.5,833" stroke="#EE3E36" stroke-width="4.6" stroke-linecap="round"/><path d="M1455.5,833 L1471,833" stroke="#EE3E36" stroke-width="4.6" stroke-linecap="round"/><path d="M1383,797 L1394,808" stroke="#EE3E36" stroke-width="4.6" stroke-linecap="round"/><path d="M1456,797 L1445,808" stroke="#EE3E36" stroke-width="4.6" stroke-linecap="round"/><path d="M1383,870 L1394,859" stroke="#EE3E36" stroke-width="4.6" stroke-linecap="round"/><path d="M1456,870 L1445,859" stroke="#EE3E36" stroke-width="4.6" stroke-linecap="round"/><path d="M1406,861 H1432.500 V872 L1428,884 Q1419.500,892 1411,884 L1406,872 Z" fill="#F5F6F8"/><path d="M1406.500,865 H1432.500" stroke="#8A8C8F" stroke-width="3.400"/><path d="M1406.500,872.3 H1432.500" stroke="#8A8C8F" stroke-width="3.400"/><path d="M1406.500,879.6 H1432.500" stroke="#8A8C8F" stroke-width="3.400"/><path d="M1412,885.500 Q1419.500,893 1427,885.500 Z" fill="#6D6E70"/><circle cx="1419" cy="833" r="28.3" fill="#F9A825"/><path d="M1424.500,814 L1404.500,836 L1417,836.500 L1411.500,853 L1434.500,829.500 L1421.500,829 Z" fill="#fff"/>
<circle cx="1291" cy="914" r="50" fill="#4FA9BC"/><path d="M1291,864 A50,50 0 0 1 1291,964 Z" fill="#2F9CA8"/><rect x="1262.6" y="892.0" width="56.8" height="43.0" fill="#fff" /><path d="M1261,891 H1321 M1261,937 H1321" stroke="#3A3A3C" stroke-width="4" stroke-linecap="round"/><rect x="1271.0" y="921.0" width="5.6" height="8.0" fill="#2F9CA8" /><rect x="1282.0" y="913.6" width="5.6" height="15.4" fill="#E8402F" /><rect x="1293.6" y="904.0" width="5.6" height="25.0" fill="#2F9CA8" /><rect x="1304.0" y="897.0" width="5.6" height="32.0" fill="#E8402F" /><path d="M1318,870 L1329,860 L1343,879 L1366,860" fill="none" stroke="#4FB3C7" stroke-width="5"/><path d="M1376.500,848.500 L1359,853 L1371.500,868.500 Z" fill="#4FB3C7"/>
<circle cx="1523" cy="909" r="35.5" fill="#E8402F"/><path d="M1497,932 L1487.500,947 L1512,942 Z" fill="#E8402F"/><circle cx="1507.4" cy="910.2" r="3.7" fill="#fff"/><circle cx="1522.4" cy="910.2" r="3.7" fill="#fff"/><circle cx="1537.4" cy="910.2" r="3.7" fill="#fff"/>
<circle cx="1662.6" cy="933" r="35.7" fill="#F9A825"/><path d="M1680,962 L1697.500,971 L1690,950 Z" fill="#F9A825"/><circle cx="1646.4" cy="934.2" r="3.7" fill="#2A2326"/><circle cx="1662.4" cy="934.2" r="3.7" fill="#2A2326"/><circle cx="1677.6" cy="934.2" r="3.7" fill="#2A2326"/>
<rect x="1260.70" y="976.00" width="4.6" height="30" rx="1.2" fill="#3A9EA5" transform="rotate(0.0 1263 991)"/><rect x="1260.70" y="976.00" width="4.6" height="30" rx="1.2" fill="#3A9EA5" transform="rotate(45.0 1263 991)"/><rect x="1260.70" y="976.00" width="4.6" height="30" rx="1.2" fill="#3A9EA5" transform="rotate(90.0 1263 991)"/><rect x="1260.70" y="976.00" width="4.6" height="30" rx="1.2" fill="#3A9EA5" transform="rotate(135.0 1263 991)"/><circle cx="1263" cy="991" r="11.3" fill="#3A9EA5"/><circle cx="1263" cy="991" r="8" fill="#F7FAFD"/><circle cx="1263" cy="991" r="4.6" fill="#3A9EA5"/><circle cx="1263" cy="991" r="2" fill="#F7FAFD"/>
<circle cx="1307.4" cy="1025.6" r="19" fill="#fff"/><path d="M1306.33,1056.28 A30.7,30.7 0 1 1 1321.81,998.49 L1315.85,1009.71 A18,18 0 1 0 1306.77,1043.59 Z" fill="#F9A825"/><path d="M1321.81,998.49 A30.7,30.7 0 0 1 1337.93,1028.81 L1325.30,1027.48 A18,18 0 0 0 1315.85,1009.71 Z" fill="#E8402F"/><path d="M1337.93,1028.81 A30.7,30.7 0 0 1 1306.33,1056.28 L1306.77,1043.59 A18,18 0 0 0 1325.30,1027.48 Z" fill="#34A0AB"/>
<rect x="1226.3" y="1073.3" width="51.0" height="59.8" fill="#fff" stroke="#58595B" stroke-width="2.600"/><path d="M1239,1080.500 V1072 Q1239,1070 1241,1070 H1247.500 Q1248,1064.500 1252,1064.500 Q1256,1064.500 1256.500,1070 H1263 Q1265,1070 1265,1072 V1080.500 Z" fill="#34A0AB"/><circle cx="1252" cy="1068.500" r="1.500" fill="#F7FAFD"/><circle cx="1240.6" cy="1090.4" r="3.700" fill="#fff" stroke="#E8402F" stroke-width="2.300"/><path d="M1251,1090.4 H1268" stroke="#3A3A3C" stroke-width="3"/><circle cx="1240.6" cy="1104" r="3.700" fill="#fff" stroke="#E8402F" stroke-width="2.300"/><path d="M1251,1104 H1268" stroke="#3A3A3C" stroke-width="3"/><circle cx="1240.6" cy="1118" r="3.700" fill="#fff" stroke="#E8402F" stroke-width="2.300"/><path d="M1251,1118 H1268" stroke="#3A3A3C" stroke-width="3"/>
<path d="M1294,1190.500 L1302,1198" stroke="#34A0AB" stroke-width="4.500"/><path d="M1301,1197 L1320.500,1215" stroke="#3F3F41" stroke-width="11.500"/><circle cx="1278.6" cy="1173" r="20" fill="#fff" stroke="#E8402F" stroke-width="6.600"/><text x="1278.6" y="1183.8" font-size="30" fill="#2D2D2F" font-weight="bold" text-anchor="middle">$</text>
<circle cx="1686.6" cy="811.4" r="21.2" fill="#F7FAFD" stroke="#5BB6C8" stroke-width="3.600"/><path d="M1673.500,804.500 L1687,820.500 L1709.500,785" fill="none" stroke="#EE3E36" stroke-width="4.600" stroke-linecap="round" stroke-linejoin="round"/>
<g transform="translate(1741 843.500) rotate(-50)"><rect x="-22" y="-10" width="40" height="20" rx="3.500" fill="#E8402F"/></g><path d="M1756.500,825 L1747.500,835.500" stroke="#F9A825" stroke-width="20"/><circle cx="1778.6" cy="805" r="36.500" fill="#fff" stroke="#2A6680" stroke-width="7.500"/><path d="M1760.1,823.1 Q1760.1,806.45 1773.05,803.675 L1778.6,810.15 L1784.1499999999999,803.675 Q1797.1,806.45 1797.1,823.1 Z" fill="#4A4A4C"/><path d="M1773.05,803.675 L1778.6,815.7 L1784.1499999999999,803.675 Z" fill="#fff"/><path d="M1778.6,806.45 V823.1" stroke="#2C5FA8" stroke-width="2.59"/><rect x="1775.27" y="797.2" width="6.66" height="9.25" fill="#E3A57C"/><ellipse cx="1778.6" cy="793.5" rx="8.14" ry="9.620000000000001" fill="#F0B78A"/><path d="M1770.09,792.575 Q1769.35,781.475 1778.6,781.475 Q1787.85,781.475 1787.11,792.575 Q1784.1499999999999,787.025 1778.6,787.58 Q1773.05,787.025 1770.09,792.575 Z" fill="#5A2A12"/>
<circle cx="1860" cy="893.4" r="50" fill="#5BB6C8"/><path d="M1860,843.4 A50,50 0 0 1 1860,943.4 Z" fill="#2F9CA8"/><path d="M1831,868 Q1831,864.4 1835,864.4 H1885.500 Q1889.400,864.4 1889.400,868 V911 L1877,923 H1835 Q1831,923 1831,919 Z" fill="#fff"/><path d="M1889.400,911 L1877,923 Q1880,916 1878.500,912.500 Q1884,913.500 1889.400,911 Z" fill="#E6D4D6"/><path d="M1831,882 V868 Q1831,864.4 1835,864.4 H1885.500 Q1889.400,864.4 1889.400,868 V882 Z" fill="#E8402F"/><circle cx="1843.600" cy="874" r="2.300" fill="#5BB6C8"/><circle cx="1876.600" cy="874" r="2.300" fill="#5BB6C8"/><text x="1860.0" y="910.0" font-size="28" fill="#333" font-weight="bold" text-anchor="middle">17</text>
<circle cx="1892.8" cy="972.8" r="24.600" fill="#fff" stroke="#E8402F" stroke-width="3.600"/><path d="M1892.8,955.8 L1892.8,951.8" stroke="#34A0AB" stroke-width="1.600"/><path d="M1909.8,972.8 L1913.8,972.8" stroke="#34A0AB" stroke-width="1.600"/><path d="M1892.8,989.8 L1892.8,993.8" stroke="#34A0AB" stroke-width="1.600"/><path d="M1875.8,972.8 L1871.8,972.8" stroke="#34A0AB" stroke-width="1.600"/><path d="M1883,966 L1892.8,972.8 L1910,964" fill="none" stroke="#2D2D2F" stroke-width="2.200" stroke-linejoin="round"/><path d="M1892.8,972.8 L1901,988" stroke="#2D2D2F" stroke-width="1.300"/>
<path d="M1881.500,1098 H1910.500 L1912,1113.500 H1880 Z" fill="#3A3A3C"/><rect x="1869.0" y="1112.8" width="53.4" height="5.4" fill="#5BB6C8" rx="2.500"/><rect x="1836.0" y="1009.6" width="119.0" height="89.0" fill="#5BB6C8" rx="5"/><rect x="1841.6" y="1015.0" width="108.8" height="68.6" fill="#fff" rx="2"/><path d="M1847.8,1045.92 Q1847.8,1035.84 1855.64,1034.16 L1859,1038.08 L1862.36,1034.16 Q1870.2,1035.84 1870.2,1045.92 Z" fill="#3A3A3C"/><path d="M1855.64,1034.16 L1859,1041.44 L1862.36,1034.16 Z" fill="#fff"/><path d="M1859,1035.84 V1045.92" stroke="#E8402F" stroke-width="1.568"/><rect x="1856.984" y="1030.24" width="4.032000000000001" height="5.6000000000000005" fill="#E3A57C"/><ellipse cx="1859" cy="1028" rx="4.928000000000001" ry="5.824000000000001" fill="#F0B78A"/><path d="M1853.848,1027.44 Q1853.4,1020.72 1859,1020.72 Q1864.6,1020.72 1864.152,1027.44 Q1862.36,1024.08 1859,1024.416 Q1855.64,1024.08 1853.848,1027.44 Z" fill="#2A2326"/><path d="M1898.8,1045.92 Q1898.8,1035.84 1906.64,1034.16 L1910,1038.08 L1913.36,1034.16 Q1921.2,1035.84 1921.2,1045.92 Z" fill="#2A2326"/><path d="M1906.64,1034.16 L1910,1041.44 L1913.36,1034.16 Z" fill="#fff"/><path d="M1910,1035.84 V1045.92" stroke="#E07080" stroke-width="1.568"/><rect x="1907.984" y="1030.24" width="4.032000000000001" height="5.6000000000000005" fill="#E3A57C"/><ellipse cx="1910" cy="1028" rx="4.928000000000001" ry="5.824000000000001" fill="#F0B78A"/><path d="M1904.848,1027.44 Q1904.4,1020.72 1910,1020.72 Q1915.6,1020.72 1915.152,1027.44 Q1913.36,1024.08 1910,1024.416 Q1906.64,1024.08 1904.848,1027.44 Z" fill="#3A3A3C"/><path d="M1847.8,1079.42 Q1847.8,1069.34 1855.64,1067.66 L1859,1071.58 L1862.36,1067.66 Q1870.2,1069.34 1870.2,1079.42 Z" fill="#4A4A4C"/><path d="M1855.64,1067.66 L1859,1074.94 L1862.36,1067.66 Z" fill="#fff"/><path d="M1859,1069.34 V1079.42" stroke="#2C5FA8" stroke-width="1.568"/><rect x="1856.984" y="1063.74" width="4.032000000000001" height="5.6000000000000005" fill="#E3A57C"/><ellipse cx="1859" cy="1061.5" rx="4.928000000000001" ry="5.824000000000001" fill="#F0B78A"/><path d="M1853.848,1060.94 Q1853.4,1054.22 1859,1054.22 Q1864.6,1054.22 1864.152,1060.94 Q1862.36,1057.58 1859,1057.916 Q1855.64,1057.58 1853.848,1060.94 Z" fill="#6B2A0F"/><path d="M1898.8,1079.42 Q1898.8,1069.34 1906.64,1067.66 L1910,1071.58 L1913.36,1067.66 Q1921.2,1069.34 1921.2,1079.42 Z" fill="#2F8FB0"/><path d="M1906.64,1067.66 L1910,1074.94 L1913.36,1067.66 Z" fill="#fff"/><path d="M1910,1069.34 V1079.42" stroke="#fff" stroke-width="1.568"/><rect x="1907.984" y="1063.74" width="4.032000000000001" height="5.6000000000000005" fill="#E3A57C"/><ellipse cx="1910" cy="1061.5" rx="4.928000000000001" ry="5.824000000000001" fill="#F0B78A"/><path d="M1904.848,1060.94 Q1904.4,1054.22 1910,1054.22 Q1915.6,1054.22 1915.152,1060.94 Q1913.36,1057.58 1910,1057.916 Q1906.64,1057.58 1904.848,1060.94 Z" fill="#E8402F"/><rect x="1875.0" y="1024.5" width="19.0" height="2.0" fill="#58595B" /><rect x="1875.0" y="1027.6" width="16.0" height="1.3" fill="#58595B" /><rect x="1875.0" y="1030.7" width="14.0" height="1.3" fill="#58595B" /><rect x="1875.0" y="1033.8" width="17.0" height="1.3" fill="#58595B" /><rect x="1875.0" y="1036.9" width="13.0" height="1.3" fill="#58595B" /><rect x="1875.0" y="1040.0" width="18.0" height="1.3" fill="#58595B" /><rect x="1875.0" y="1043.1" width="8.0" height="1.3" fill="#58595B" /><rect x="1925.5" y="1024.5" width="19.0" height="2.0" fill="#58595B" /><rect x="1925.5" y="1027.6" width="16.0" height="1.3" fill="#58595B" /><rect x="1925.5" y="1030.7" width="14.0" height="1.3" fill="#58595B" /><rect x="1925.5" y="1033.8" width="17.0" height="1.3" fill="#58595B" /><rect x="1925.5" y="1036.9" width="13.0" height="1.3" fill="#58595B" /><rect x="1925.5" y="1040.0" width="18.0" height="1.3" fill="#58595B" /><rect x="1925.5" y="1043.1" width="8.0" height="1.3" fill="#58595B" /><rect x="1875.0" y="1056.0" width="19.0" height="2.0" fill="#58595B" /><rect x="1875.0" y="1059.1" width="16.0" height="1.3" fill="#58595B" /><rect x="1875.0" y="1062.2" width="14.0" height="1.3" fill="#58595B" /><rect x="1875.0" y="1065.3" width="17.0" height="1.3" fill="#58595B" /><rect x="1875.0" y="1068.4" width="13.0" height="1.3" fill="#58595B" /><rect x="1875.0" y="1071.5" width="18.0" height="1.3" fill="#58595B" /><rect x="1875.0" y="1074.6" width="8.0" height="1.3" fill="#58595B" /><rect x="1925.5" y="1056.0" width="19.0" height="2.0" fill="#58595B" /><rect x="1925.5" y="1059.1" width="16.0" height="1.3" fill="#58595B" /><rect x="1925.5" y="1062.2" width="14.0" height="1.3" fill="#58595B" /><rect x="1925.5" y="1065.3" width="17.0" height="1.3" fill="#58595B" /><rect x="1925.5" y="1068.4" width="13.0" height="1.3" fill="#58595B" /><rect x="1925.5" y="1071.5" width="18.0" height="1.3" fill="#58595B" /><rect x="1925.5" y="1074.6" width="8.0" height="1.3" fill="#58595B" />
<path d="M1968.500,1032.500 L1980.500,1043.500" stroke="#2A6680" stroke-width="8.500" stroke-linecap="round"/><circle cx="1952" cy="1012.400" r="20.300" fill="none" stroke="#2A6680" stroke-width="7.200"/>
<g fill="none" stroke="#2F5566" stroke-width="1.700"><circle cx="1878.6" cy="1157.6" r="19"/><circle cx="1878.6" cy="1157.6" r="13.5"/><circle cx="1878.6" cy="1157.6" r="8"/><path d="M1856.1,1157.6 H1873.6 M1883.6,1157.6 H1901.1 M1878.6,1135.1 V1152.6 M1878.6,1162.6 V1180.1"/></g>
<circle cx="1836" cy="1205.6" r="29.6" fill="#45ACC4"/><path d="M1836,1176.0 A29.6,29.6 0 0 1 1836,1235.1999999999998 Z" fill="#2F9CA8"/><path d="M1837,1176.1 L1842,1176.6 L1842,1234.6 L1837,1235.1 Z" fill="#6CC4D4" opacity="0.6"/><circle cx="1836" cy="1205.6" r="19.600" fill="#F9A825"/><circle cx="1836" cy="1205.6" r="16.300" fill="none" stroke="#3A2E2A" stroke-width="1.700"/><text x="1836.0" y="1213.6" font-size="23" fill="#3A2E2A" text-anchor="middle">$</text>
<path d="M1554.0,997.0 Q1554.0,988.0 1561.0,986.5 L1564,990.0 L1567.0,986.5 Q1574.0,988.0 1574.0,997.0 Z" fill="#4A4A4C"/><path d="M1561.0,986.5 L1564,993.0 L1567.0,986.5 Z" fill="#fff"/><path d="M1564,988.0 V997.0" stroke="#2C5FA8" stroke-width="1.4"/><rect x="1562.2" y="983.0" width="3.6" height="5.0" fill="#E3A57C"/><ellipse cx="1564" cy="981" rx="4.4" ry="5.2" fill="#F0B78A"/><path d="M1559.4,980.5 Q1559.0,974.5 1564,974.5 Q1569.0,974.5 1568.6,980.5 Q1567.0,977.5 1564,977.8 Q1561.0,977.5 1559.4,980.5 Z" fill="#5A2A12"/><rect x="1580.6" y="972.0" width="30.8" height="3.0" fill="#58595B" /><rect x="1580.6" y="978.6" width="30.5" height="1.4" fill="#77787B" /><rect x="1580.6" y="982.6" width="25.0" height="1.4" fill="#77787B" /><rect x="1580.6" y="986.6" width="16.5" height="1.4" fill="#77787B" /><rect x="1552.6" y="1002.0" width="58.5" height="3.0" fill="#58595B" /><rect x="1552.6" y="1007.0" width="47.0" height="1.3" fill="#77787B" /><rect x="1552.6" y="1011.0" width="35.0" height="1.3" fill="#77787B" /><rect x="1552.6" y="1015.0" width="55.5" height="1.3" fill="#77787B" /><rect x="1552.6" y="1019.0" width="50.0" height="1.3" fill="#77787B" /><rect x="1552.6" y="1024.0" width="58.5" height="3.0" fill="#58595B" /><rect x="1552.6" y="1029.0" width="58.0" height="1.3" fill="#77787B" /><rect x="1552.6" y="1033.0" width="30.0" height="1.3" fill="#77787B" /><rect x="1552.6" y="1037.0" width="46.5" height="1.3" fill="#77787B" /><rect x="1552.6" y="1041.0" width="55.0" height="1.3" fill="#77787B" /><rect x="1552.6" y="1045.5" width="58.5" height="3.0" fill="#58595B" /><rect x="1552.6" y="1050.0" width="51.0" height="1.3" fill="#77787B" /><rect x="1552.6" y="1054.0" width="58.0" height="1.3" fill="#77787B" /><rect x="1552.6" y="1058.0" width="29.0" height="1.3" fill="#77787B" />
<defs><linearGradient id="gGround" x1="0" x2="1" y1="0" y2="0"><stop offset="0" stop-color="#A7A9AC" stop-opacity="0"/><stop offset="0.1" stop-color="#A7A9AC"/><stop offset="0.9" stop-color="#A7A9AC"/><stop offset="1" stop-color="#A7A9AC" stop-opacity="0"/></linearGradient></defs><ellipse cx="1590" cy="1419.500" rx="372" ry="4.800" fill="url(#gGround)"/>
<path d="M1388,1222 H1441 L1437,1256 L1412,1397 H1382 Z" fill="#0F4354"/>
<path d="M1440,1222 H1454 L1455.500,1397 H1432.600 L1425.600,1320 L1436,1256 Z" fill="#245F78"/>
<path d="M1379.400,1418.400 V1397 H1409 L1414,1404 L1456.400,1411.500 V1418.400 Z" fill="#231F20"/>
<path d="M1429.800,1397 H1458 L1464,1405 L1506.300,1412 V1418.400 H1456 V1411.500 L1433,1407.500 Z" fill="#4A4A4C"/>
<path d="M1387,1084 L1394,1056 L1410,1066 L1447,1110 L1454,1224 H1387 Z" fill="#231F20"/>
<path d="M1381,1050 C1352,1072 1337,1104 1338,1134 C1339.500,1164 1349,1196 1357.500,1219 L1380.500,1210 C1372,1182 1365.500,1152 1367,1130 C1368.500,1108 1378,1092 1387,1085 L1398,1062 Z" fill="#4A4A4C"/>
<path d="M1444,1071 C1472,1067 1500,1056 1522.500,1038.500 L1538,1056 C1515,1080 1482,1094 1446,1099 Z" fill="#4A4A4C"/>
<path d="M1522.500,1038.500 L1530,1029.500 L1550,1021.500 L1550.500,1024 L1541,1032 L1543.500,1046 L1538,1056 Z" fill="#F0B78A"/>
<path d="M1540,1033 L1543.500,1046 L1538,1056 L1534,1051 Z" fill="#B9774A"/>
<path d="M1381,1048 H1406 L1446,1100 L1447,1118 L1412,1080 L1410,1072 L1380,1053 Z" fill="#6D6E70"/>
<path d="M1406,1048 H1432 L1440,1064 L1435,1068 L1443,1100 Z" fill="#D9DADC"/>
<path d="M1432,1047.400 H1442 L1447,1118 L1443,1100 L1435,1068 L1440,1064 Z" fill="#1F5870"/>
<path d="M1391,985 H1431.500 V1031.600 H1391 Z" fill="#D99A6C"/>
<path d="M1415,937 H1451.700 L1452.500,964 L1458.500,983.500 L1451,986.500 L1450.200,995.500 L1436,998.500 L1450.200,1006 L1445,1015 L1431.500,1020.200 V1031.600 H1413.500 V1012 L1405,990 Z" fill="#F0B78A"/>
<path d="M1416,1031.600 V1016 Q1422,1021 1432,1020 V1031.600 Z" fill="#D99A6C" opacity="0.0"/>
<path d="M1386.600,921 H1446 Q1458,921 1458,937 H1415 V991 H1386.600 Z" fill="#6B2A0F"/>
<path d="M1416,958 Q1403,957 1402.500,971 Q1403,984 1409,992 L1416,996 Z" fill="#F0B78A"/>
<circle cx="1435.600" cy="959.400" r="3" fill="#1A1416"/>
<path d="M1357.500,1219 L1380.500,1210 L1386.500,1232 L1385,1242 H1364 L1360,1232 Z" fill="#F0B78A"/>
<path d="M1358,1243 A15.500,14 0 0 1 1389,1243" fill="none" stroke="#5BB6C8" stroke-width="4.500"/>
<rect x="1363.5" y="1236.5" width="22.5" height="4.0" fill="#F7F3EE" rx="2"/>
<rect x="1322.0" y="1278.0" width="103.6" height="41.0" fill="#5BB6C8" />
<rect x="1317.2" y="1241.0" width="113.2" height="46.4" fill="#3A9EA5" rx="5.500"/>
<rect x="1355.6" y="1281.8" width="36.4" height="14.0" fill="#3A3336" rx="7"/>
<rect x="1359.8" y="1286.0" width="28.0" height="6.0" fill="#fff" rx="3"/>
<path d="M1730.900,1222 H1786.900 L1791,1397 H1765.900 L1753.300,1298 Z" fill="#4A4A4C"/>
<path d="M1718.200,1222 H1731.500 L1753.300,1298 L1742,1397 H1716.800 Z" fill="#5D5E60"/>
<path d="M1666.400,1418.400 V1412 L1708,1405 L1714,1397 H1742 V1418.400 Z" fill="#4A4A4C"/>
<path d="M1715.400,1418.400 V1412 L1758,1405 L1764,1397 H1793.900 V1418.400 Z" fill="#231F20"/>
<path d="M1728,1062 L1787,1044 V1224 H1718 L1728,1100 Z" fill="#231F20"/>
<path d="M1737,1032 H1787 V1050 L1730,1068 V1046 Z" fill="#4FB3C7"/>
<path d="M1730,1056 L1787,1040 V1050 L1730,1068 Z" fill="#2F9CA8"/>
<path d="M1724,1156 L1688,1177.500 L1696.500,1199.500 L1722,1186 Z" fill="#4A4A4C"/>
<g transform="translate(1658.400 1198.500) rotate(-45)"><rect x="-17.100" y="-31.800" width="34.200" height="63.600" rx="4.500" fill="#3A3A3C"/><rect x="-13.600" y="-24" width="27.200" height="44.500" fill="#3AB5BF"/><circle cx="0" cy="26.200" r="2.700" fill="#fff"/><rect x="-5" y="-28.800" width="10" height="1.600" rx="0.800" fill="#fff"/></g>
<circle cx="1650.500" cy="1190" r="4.700" fill="#fff"/><path d="M1652,1206 L1660,1197.500 L1664.500,1200 L1669.500,1203.500 L1660,1213 Z" fill="#fff"/>
<path d="M1688,1177.500 L1672,1180.500 L1662,1190 L1659.500,1196.500 L1667,1194.500 L1676,1192.500 L1686,1199 L1696.500,1199.500 Z" fill="#F0B78A"/>
<path d="M1632,1117.500 C1668,1122 1702,1119 1728,1106 V1096 L1791,1051 L1787,1076 C1776,1112 1746,1140 1712,1146 C1690,1148.500 1660,1145.500 1628,1143 Z" fill="#4A4A4C"/>
<path d="M1728,1092.500 L1792,1047.500 L1793,1053.500 L1760,1077 L1757,1073.500 L1728,1099 Z" fill="#6D6E70"/>
<path d="M1632,1117.500 L1612,1112.500 L1600,1115.500 L1583,1130.500 L1585.500,1134 L1596,1127.500 L1591.500,1138 L1595.500,1141.500 L1604,1133.500 L1602.500,1143 L1607,1145 L1614.500,1136.500 L1628,1143 Z" fill="#F0B78A"/>
<path d="M1741.200,988 H1781.400 V1032.200 H1741.200 Z" fill="#D99A6C"/>
<path d="M1722,939.800 H1758.500 V1031.800 H1741.200 V1019.200 Q1728,1017 1722.500,1005.600 L1733.800,995.900 L1721.400,994.200 L1721.400,986.300 L1713.400,985.700 L1722,968.200 Z" fill="#F0B78A"/>
<path d="M1758,985 Q1773,992 1771,1004 Q1768,1015 1758,1019.500 Z" fill="#F0B78A"/>
<path d="M1709,921 C1708,908 1718,900 1728,902 C1736,903.500 1742,909 1750,911.500 C1760,914 1770,914 1779,914.500 Q1786,915 1786,922 V988 Q1786,999.500 1776,999.500 Q1765,999 1759.500,990 L1758,962 V939.800 H1722 Q1711,934 1709,921 Z" fill="#231F20"/>
<ellipse cx="1763" cy="975.500" rx="7.800" ry="14" fill="#F0B78A"/>
<circle cx="1735.500" cy="960.200" r="3.200" fill="#1A1416"/>
<g fill="none" stroke="#C7D2F3" stroke-width="1.6">
<circle cx="119.5" cy="1474" r="21.5"/>
<ellipse cx="119.5" cy="1474" rx="10.75" ry="21.5"/>
<path d="M119.5,1452.5 V1467.5 M119.5,1480.5 V1495.5"/>
<path d="M101.87,1462.175 Q119.5,1469.7 137.13,1462.175"/>
<path d="M101.87,1485.825 Q119.5,1478.3 137.13,1485.825"/>
</g>
<rect x="97.0" y="1468.0" width="45.0" height="12.0" fill="#2F5597" />
<text x="119.5" y="1477.6" font-size="15" fill="#C7D2F3" textLength="40.0" lengthAdjust="spacingAndGlyphs" font-weight="bold" text-anchor="middle">www</text>
<circle cx="388.5" cy="1472" r="22.5" fill="#2CA3DC"/>
<path d="M375.0,1471 L400.0,1461.5 L395.0,1483.5 L387.5,1477.5 L384.0,1482 L383.0,1475 Z" fill="#fff"/>
<path d="M383.0,1475 L396.5,1465.5 L387.5,1477.5 L384.0,1482 Z" fill="#C8DDEE"/>
<circle cx="667.5" cy="1475" r="24" fill="#16A9FD"/>
<text x="668.0" y="1486.5" font-size="35" fill="#2F5597" font-weight="bold" text-anchor="middle">f</text>
<defs><linearGradient id="gIg" x1="0" y1="1" x2="1" y2="0"><stop offset="0" stop-color="#FEC84B"/><stop offset="0.3" stop-color="#F9632B"/><stop offset="0.6" stop-color="#E1306C"/><stop offset="1" stop-color="#7B3FE0"/></linearGradient></defs>
<rect x="1072.5" y="1449.5" width="47.0" height="43.0" fill="url(#gIg)" rx="11"/>
<rect x="1079" y="1455.5" width="34" height="31" rx="8" fill="none" stroke="#5B3FC8" stroke-opacity="0.55" stroke-width="2"/>
<circle cx="1096" cy="1471" r="8" fill="none" stroke="#E24A8E" stroke-width="2.2"/>
<circle cx="1106.5" cy="1461.5" r="2" fill="#F7A0B8"/>
<circle cx="1534" cy="1474" r="23.5" fill="#050505"/>
<g stroke="#fff" fill="none"><path d="M1524,1463 L1544,1485" stroke-width="4.6"/><path d="M1524,1463 L1544,1485" stroke="#050505" stroke-width="1.6"/><path d="M1543.5,1463 L1535.6,1472 M1532.4,1476 L1524.5,1485" stroke-width="1.6"/></g>
<text x="155.0" y="1486.3" font-size="31" fill="#fff" textLength="151.0" lengthAdjust="spacingAndGlyphs" stroke="#fff" stroke-width="0.25" stroke-linejoin="round">www.agmk.uz</text>
<text x="422.0" y="1486.3" font-size="31" fill="#fff" textLength="152.0" lengthAdjust="spacingAndGlyphs" stroke="#fff" stroke-width="0.25" stroke-linejoin="round">t.me/ao_agmk</text>
<text x="701.0" y="1486.3" font-size="31" fill="#fff" textLength="290.0" lengthAdjust="spacingAndGlyphs" stroke="#fff" stroke-width="0.25" stroke-linejoin="round">facebook.com/agmkofficial</text>
<text x="1132.0" y="1486.3" font-size="31" fill="#fff" textLength="305.0" lengthAdjust="spacingAndGlyphs" stroke="#fff" stroke-width="0.25" stroke-linejoin="round">instagram.com/agmkofficial</text>
<text x="1573.0" y="1486.3" font-size="31" fill="#fff" textLength="216.0" lengthAdjust="spacingAndGlyphs" stroke="#fff" stroke-width="0.25" stroke-linejoin="round">x.com/okmk_official</text>
</svg>
</body></html>
